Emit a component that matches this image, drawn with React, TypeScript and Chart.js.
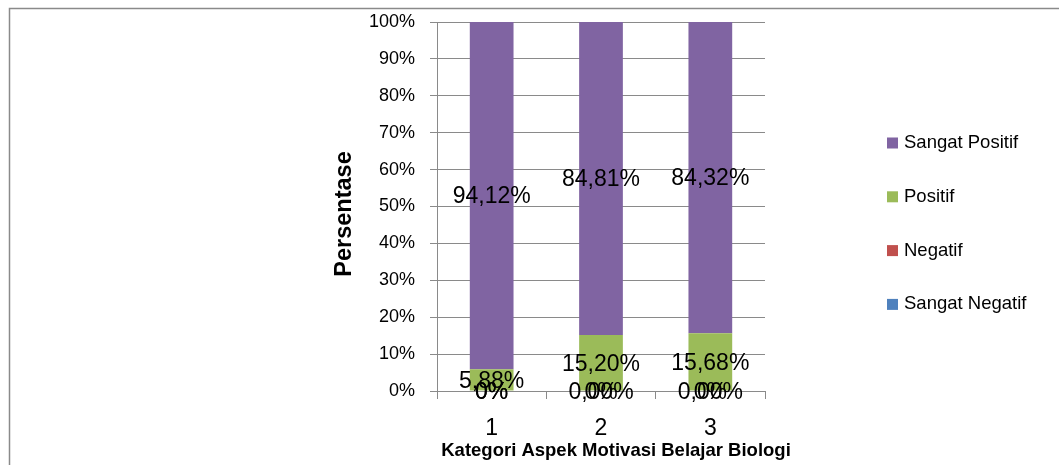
import React, { useEffect, useRef } from "react";
import { Chart, registerables } from "chart.js";

Chart.register(...registerables);

const categories = ["1", "2", "3"];
const seriesNames = ["Sangat Negatif", "Negatif", "Positif", "Sangat Positif"];
const sangatNegatif = [0, 0, 0];
const negatif = [0, 0, 0];
const positif = [5.88, 15.2, 15.68];
const sangatPositif = [94.12, 84.81, 84.32];
const sangatNegatifLabels = ["0%", "0%", "0%"];
const negatifLabels = ["0%", "0,00%", "0,00%"];
const positifLabels = ["5,88%", "15,20%", "15,68%"];
const sangatPositifLabels = ["94,12%", "84,81%", "84,32%"];
const colors = ["#4F81BD", "#C0504D", "#9BBB59", "#8064A2"];
const xTitle = "Kategori Aspek Motivasi Belajar Biologi";
const yTitle = "Persentase";

const FONT = "'Liberation Sans', Arial, sans-serif";
const GRID = "#8a8a8a";

export default function App() {
  const ref = useRef<HTMLCanvasElement | null>(null);

  useEffect(() => {
    const canvas = ref.current;
    if (!canvas) return;
    const values = [sangatNegatif, negatif, positif, sangatPositif];
    const labels = [sangatNegatifLabels, negatifLabels, positifLabels, sangatPositifLabels];

    const framePlugin = {
      id: "frame",
      beforeDraw(chart: any) {
        const ctx = chart.ctx;
        ctx.save();
        ctx.strokeStyle = GRID;
        ctx.lineWidth = 1.5;
        ctx.strokeRect(9.5, 8.5, 1200, 1000);
        ctx.restore();
      },
    };

    const labelPlugin = {
      id: "dataLabels",
      afterDatasetsDraw(chart: any) {
        const ctx = chart.ctx;
        ctx.save();
        ctx.font = `23px ${FONT}`;
        ctx.fillStyle = "#000";
        ctx.textAlign = "center";
        ctx.textBaseline = "middle";
        chart.data.datasets.forEach((ds: any, di: number) => {
          const meta = chart.getDatasetMeta(di);
          meta.data.forEach((el: any, i: number) => {
            const y = (el.y + el.base) / 2 + 1.5;
            ctx.fillText(ds.valueLabels[i], el.x, y);
          });
        });
        ctx.restore();
      },
    };

    const legendPlugin = {
      id: "customLegend",
      afterDraw(chart: any) {
        const ctx = chart.ctx;
        ctx.save();
        ctx.font = `18.5px ${FONT}`;
        ctx.textBaseline = "middle";
        ctx.textAlign = "left";
        const ds = chart.data.datasets.slice().reverse();
        ds.forEach((d: any, i: number) => {
          const cy = 143 + i * 53.8;
          ctx.fillStyle = d.backgroundColor;
          ctx.fillRect(887, cy - 5.5, 11, 11);
          ctx.fillStyle = "#000";
          ctx.fillText(d.label, 904, cy);
        });
        ctx.restore();
      },
    };

    const titlePlugin = {
      id: "axisTitles",
      afterDraw(chart: any) {
        const ctx = chart.ctx;
        ctx.save();
        ctx.fillStyle = "#000";
        ctx.textAlign = "center";
        ctx.textBaseline = "middle";
        ctx.font = `bold 18.5px ${FONT}`;
        ctx.fillText(xTitle, 616, 451);
        ctx.translate(345, 214);
        ctx.rotate(-Math.PI / 2);
        ctx.font = `bold 23.5px ${FONT}`;
        ctx.fillText(yTitle, 0, 0);
        ctx.restore();
      },
    };

    const chart = new Chart(canvas, {
      type: "bar",
      data: {
        labels: categories,
        datasets: seriesNames.map((name, i) => ({
          label: name,
          data: values[i],
          valueLabels: labels[i],
          backgroundColor: colors[i],
          borderWidth: 0,
          barPercentage: 0.4,
          categoryPercentage: 1,
        })) as any,
      },
      options: {
        animation: false,
        responsive: false,
        devicePixelRatio: 1,
        layout: { padding: { left: 330, right: 294, top: 22, bottom: 0 } },
        plugins: { legend: { display: false }, tooltip: { enabled: false } },
        scales: {
          x: {
            stacked: true,
            grid: {
              display: true,
              drawOnChartArea: false,
              drawTicks: true,
              tickLength: 8,
              offset: true,
              color: GRID,
            },
            border: { display: true, color: GRID },
            ticks: { color: "#000", font: { family: FONT, size: 23 }, padding: 16 },
            afterFit(scale: any) {
              scale.height = 74;
            },
          },
          y: {
            stacked: true,
            min: 0,
            max: 100,
            grid: { color: GRID, tickLength: 7, drawTicks: true },
            border: { display: true, color: GRID },
            ticks: {
              stepSize: 10,
              color: "#000",
              font: { family: FONT, size: 18 },
              padding: 15,
              callback: (v: any) => v + "%",
            },
            afterFit(scale: any) {
              scale.width = 107;
              scale.paddingTop = 0;
              scale.paddingBottom = 0;
            },
          },
        },
      },
      plugins: [framePlugin, labelPlugin, legendPlugin, titlePlugin],
    });
    return () => chart.destroy();
  }, []);

  return (
    <div style={{ position: "absolute", left: 0, top: 0, width: 1059, height: 465 }}>
      <canvas ref={ref} width={1059} height={465} />
    </div>
  );
}
